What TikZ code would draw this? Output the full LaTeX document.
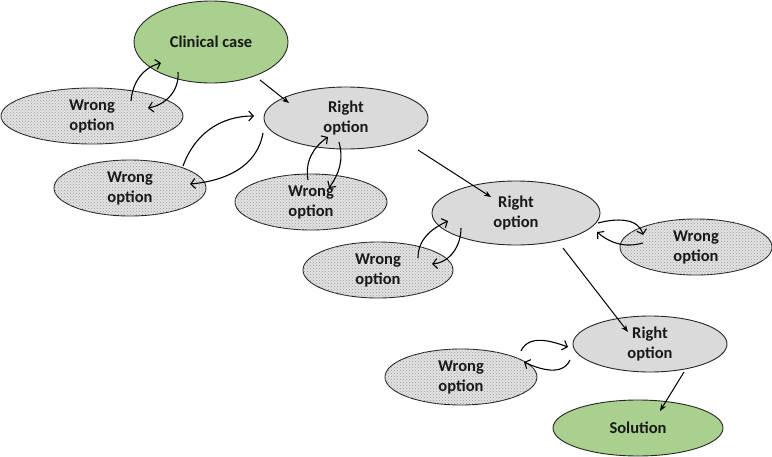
\documentclass[tikz,border=0pt]{standalone}
\usepackage{fontspec}
\setmainfont{Carlito}
\usetikzlibrary{shapes.geometric,arrows.meta,patterns}
\definecolor{casegreen}{HTML}{A9D08E}
\definecolor{rightgray}{HTML}{DADADA}
\begin{document}
\begin{tikzpicture}[x=1pt,y=-1pt,
  base/.style={ellipse, inner sep=0pt, align=center, line width=0.9pt,
    font=\fontsize{16.5}{20}\selectfont\bfseries, text=black!90},
  greennode/.style={base, draw=black!85, fill=casegreen},
  rightnode/.style={base, draw=black!85, fill=rightgray},
  wrongnode/.style={base, draw=black!85, fill=gray!22,
    postaction={pattern=crosshatch dots, pattern color=gray!80}},
  straightarrow/.style={line width=1pt, -{Stealth[length=7pt,width=5.5pt]}},
  curlarrow/.style={line width=1.1pt, -{Straight Barb[length=4.5pt,width=10pt]}}]
\useasboundingbox (0,0) rectangle (772,456);
% nodes
\node[greennode, minimum width=154pt, minimum height=82pt] (cc) at (211,42) {Clinical case};
\node[wrongnode, minimum width=182pt, minimum height=56pt] (w1) at (92,116) {Wrong\\option};
\node[rightnode, minimum width=164pt, minimum height=62pt] (r1) at (346,118) {Right\\option};
\node[wrongnode, minimum width=152pt, minimum height=56pt] (w2) at (130,188) {Wrong\\option};
\node[wrongnode, minimum width=152pt, minimum height=56pt] (w3) at (311,202) {Wrong\\option};
\node[rightnode, minimum width=168pt, minimum height=64pt] (r2) at (516,213) {Right\\option};
\node[wrongnode, minimum width=150pt, minimum height=56pt] (w4) at (378,270) {Wrong\\option};
\node[wrongnode, minimum width=152pt, minimum height=56pt] (w5) at (696,247) {Wrong\\option};
\node[rightnode, minimum width=154pt, minimum height=56pt] (r3) at (650,344) {Right\\option};
\node[wrongnode, minimum width=152pt, minimum height=56pt] (w6) at (461,377) {Wrong\\option};
\node[greennode, minimum width=170pt, minimum height=56pt] (sol) at (638,428) {Solution};
% connector end points
\coordinate (ccA) at (260,80);   \coordinate (r1A) at (289,103);
\coordinate (r1B) at (418,150);  \coordinate (r2A) at (491,197);
\coordinate (r2B) at (563,248);  \coordinate (r3A) at (628,332);
\coordinate (r3B) at (684,372);  \coordinate (solA) at (660,411);
\coordinate (w1s) at (131,101);  \coordinate (cce) at (161,63);
\coordinate (ccs) at (178,72);   \coordinate (w1e) at (148,108);
\coordinate (w2s) at (183,166);  \coordinate (r1e) at (254,116);
\coordinate (r1s) at (263,133);  \coordinate (w2e) at (190,184);
\coordinate (w3s) at (308,180);  \coordinate (r1f) at (328,137);
\coordinate (r1t) at (339,142);  \coordinate (w3e) at (329,188);
\coordinate (w4s) at (418,258);  \coordinate (r2e) at (448,221);
\coordinate (r2s) at (461,228);  \coordinate (w4e) at (432,264);
\coordinate (r2t) at (598,223);  \coordinate (w5e) at (643,235);
\coordinate (w5s) at (643,243);  \coordinate (r2f) at (597,232);
\coordinate (w6s) at (521,351);  \coordinate (r3e) at (568,347);
\coordinate (r3s) at (570,360);  \coordinate (w6e) at (524,362);
% straight arrows
\draw[straightarrow] (ccA) -- (r1A);
\draw[straightarrow] (r1B) -- (r2A);
\draw[straightarrow] (r2B) -- (r3A);
\draw[straightarrow] (r3B) -- (solA);
% curled arrows
\draw[curlarrow] (w1s) to[out=85,in=195] (cce);
\draw[curlarrow] (ccs) to[out=-85,in=10] (w1e);
\draw[curlarrow] (w2s) to[out=70,in=180] (r1e);
\draw[curlarrow] (r1s) to[out=-100,in=5] (w2e);
\draw[curlarrow] (w3s) to[out=100,in=215] (r1f);
\draw[curlarrow] (r1t) to[out=-75,in=55] (w3e);
\draw[curlarrow] (w4s) to[out=90,in=205] (r2e);
\draw[curlarrow] (r2s) to[out=-90,in=5] (w4e);
\draw[curlarrow] (r2t) to[out=15,in=105] (w5e);
\draw[curlarrow] (w5s) to[out=195,in=-40] (r2f);
\draw[curlarrow] (w6s) to[out=65,in=160] (r3e);
\draw[curlarrow] (r3s) to[out=-115,in=-25] (w6e);
\end{tikzpicture}
\end{document}
